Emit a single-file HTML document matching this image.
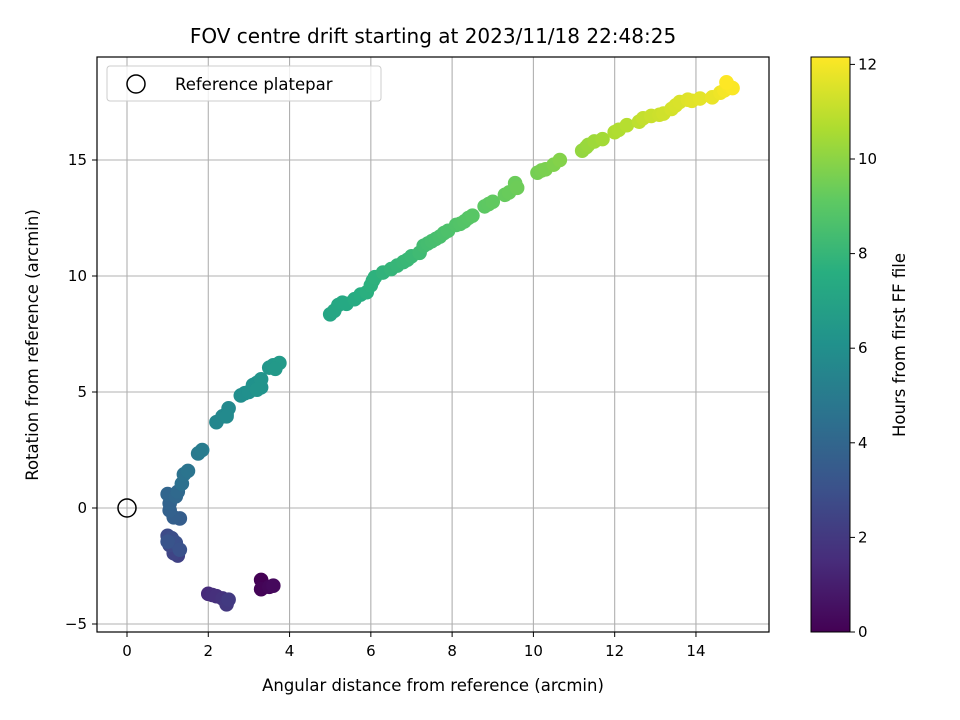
<!DOCTYPE html>
<html><head><meta charset="utf-8"><style>
body{margin:0;background:#fff;}
svg{display:block;font-family:"DejaVu Sans","Liberation Sans",sans-serif;}
</style></head><body>
<svg id="chart" width="960" height="720">
<text x="433" y="43" font-size="20" text-anchor="middle">FOV centre drift starting at 2023/11/18 22:48:25</text>
<g id="grid"></g>
<g id="pts"></g>
<rect x="97" y="57" width="672" height="575" fill="none" stroke="#000" stroke-width="1.2"/>
<g id="ticks"></g>
<text x="433" y="691" font-size="16.5" text-anchor="middle">Angular distance from reference (arcmin)</text>
<text transform="translate(38,345) rotate(-90)" font-size="16.5" text-anchor="middle">Rotation from reference (arcmin)</text>
<g>
<rect x="107" y="66" width="274" height="35" rx="3" fill="#fff" fill-opacity="0.8" stroke="#ccc"/>
<circle cx="136" cy="84" r="9" fill="none" stroke="#000" stroke-width="1.5"/>
<text x="175" y="90" font-size="16.5">Reference platepar</text>
</g>
<defs><linearGradient id="vir" x1="0" y1="1" x2="0" y2="0">
<stop offset="0" stop-color="#440154"/><stop offset="0.125" stop-color="#472d7b"/><stop offset="0.25" stop-color="#3b528b"/><stop offset="0.375" stop-color="#2c728e"/><stop offset="0.5" stop-color="#21918c"/><stop offset="0.625" stop-color="#28ae80"/><stop offset="0.75" stop-color="#5ec962"/><stop offset="0.875" stop-color="#addc30"/><stop offset="1" stop-color="#fde725"/>
</linearGradient></defs>
<rect x="811" y="57" width="39" height="575" fill="url(#vir)" stroke="#000" stroke-width="1"/>
<g id="cbticks"></g>
<text transform="translate(905,345) rotate(-90)" font-size="16.5" text-anchor="middle">Hours from first FF file</text>
</svg>
<script>
const xs=[3.3,3.3,3.5,3.6, 2.0,2.1,2.2,2.35,2.45,2.45,2.5, 1.25,1.15,1.05,1.0,1.1,1.2,1.3,1.0, 1.3,1.15,1.05,1.05,1.0,1.2,1.25, 1.35,1.4,1.5, 1.75,1.85, 2.2,2.35,2.45,2.5,2.45, 2.8,2.9,3.0,3.1,3.2,3.3,3.3,3.2, 3.5,3.6,3.75,3.65,
5.0,5.1,5.2,5.3,5.4,5.6,5.75,5.9,6.0,6.05,6.1,6.3,6.5,6.65,6.8,6.9,7.0,7.2,7.3,7.4,7.5,7.6,7.7,7.8,7.9,8.1,8.2,8.3,8.4,8.5,8.8,8.9,9.0,9.3,9.4,9.55,9.6,
10.1,10.2,10.3,10.5,10.65,11.2,11.3,11.35,11.5,11.7,12.0,12.1,12.3,12.6,12.7,12.9,13.1,13.2,13.4,13.5,13.6,13.8,13.9,14.1,14.4,14.6,14.7,14.8,14.9,14.75];
const ys=[-3.1,-3.5,-3.4,-3.35, -3.7,-3.75,-3.8,-3.9,-4.0,-4.15,-3.95, -2.05,-1.95,-1.6,-1.2,-1.3,-1.5,-1.8,-1.45, -0.45,-0.4,-0.1,0.2,0.6,0.5,0.7, 1.05,1.45,1.6, 2.35,2.5, 3.7,3.95,4.05,4.3,3.95, 4.85,4.95,5.0,5.3,5.4,5.2,5.55,5.1, 6.05,6.15,6.25,6.0,
8.35,8.5,8.75,8.85,8.8,9.0,9.2,9.3,9.6,9.8,9.95,10.15,10.3,10.45,10.6,10.7,10.85,11.0,11.3,11.4,11.5,11.6,11.7,11.85,11.95,12.2,12.25,12.35,12.5,12.6,13.0,13.1,13.2,13.5,13.6,14.0,13.8,
14.45,14.55,14.6,14.8,15.0,15.4,15.55,15.65,15.8,15.9,16.2,16.3,16.5,16.65,16.8,16.9,16.95,17.0,17.2,17.35,17.5,17.6,17.55,17.65,17.7,17.9,18.0,18.2,18.1,18.35];
const hs=[0.0,0.1,0.2,0.3, 1.5,1.6,1.7,1.8,1.9,2.0,2.1, 2.4,2.5,2.7,2.8,2.9,3.0,3.1,3.2, 3.6,3.7,3.8,3.9,4.0,4.1,4.2, 4.5,4.6,4.7, 5.0,5.1, 5.6,5.65,5.7,5.75,5.8, 6.0,6.05,6.1,6.15,6.2,6.25,6.3,6.3, 6.4,6.5,6.6,6.55,
7.2,7.25,7.3,7.35,7.4,7.5,7.6,7.7,7.75,7.78,7.8,7.9,8.0,8.05,8.1,8.15,8.2,8.3,8.4,8.45,8.5,8.55,8.6,8.65,8.7,8.8,8.85,8.9,8.95,9.0,9.1,9.15,9.2,9.3,9.35,9.4,9.45,
9.6,9.65,9.7,9.8,9.9,10.2,10.25,10.3,10.4,10.5,10.7,10.75,10.85,11.0,11.1,11.2,11.25,11.3,11.4,11.45,11.5,11.6,11.65,11.7,11.8,11.9,12.0,12.05,12.1,12.15];
const xTicks=[0,2,4,6,8,10,12,14];
const yTicks=[-5,0,5,10,15];
const cbTicks=[0,2,4,6,8,10,12];
const NS="http://www.w3.org/2000/svg";
const X=v=>127+v*40.64, Y=v=>508-v*23.2, C=v=>632-v*47.3;
const vir=[[68,1,84],[71,44,122],[59,81,139],[44,113,142],[33,144,141],[39,173,129],[92,200,99],[170,220,50],[253,231,37]];
function col(h){let t=Math.max(0,Math.min(1,h/12.15))*8,i=Math.min(7,Math.floor(t)),f=t-i;const a=vir[i],b=vir[i+1];return `rgb(${a.map((v,k)=>Math.round(v+(b[k]-v)*f)).join(',')})`;}
function mk(t,at,p){const e=document.createElementNS(NS,t);for(const k in at)e.setAttribute(k,at[k]);p.appendChild(e);return e;}
const grid=document.getElementById('grid'),tk=document.getElementById('ticks'),pts=document.getElementById('pts'),cb=document.getElementById('cbticks');
xTicks.forEach(v=>{const x=X(v);
const g=mk('line',{x1:x,x2:x,y1:57,y2:632,stroke:'#b0b0b0','stroke-width':1.1},grid);


mk('line',{x1:x,x2:x,y1:632,y2:637,stroke:'#000'},tk);
const t=mk('text',{x:x,y:656,'font-size':15,'text-anchor':'middle'},tk);t.textContent=v;

});
yTicks.forEach(v=>{const y=Y(v);
const g=mk('line',{x1:97,x2:769,y1:y,y2:y,stroke:'#b0b0b0','stroke-width':1.1},grid);


mk('line',{x1:92,x2:97,y1:y,y2:y,stroke:'#000'},tk);
const t=mk('text',{x:87,y:y+5,'font-size':15,'text-anchor':'end'},tk);t.textContent=v===-5?'\u22125':v;

});
cbTicks.forEach(v=>{const y=C(v);
mk('line',{x1:850,x2:855,y1:y,y2:y,stroke:'#000'},cb);
const t=mk('text',{x:858,y:y+5,'font-size':15},cb);t.textContent=v;

});
xs.forEach((x,i)=>{const c=mk('circle',{cx:X(x),cy:Y(ys[i]),r:7.3,fill:col(hs[i])},pts);

});
const r=mk('circle',{cx:X(0),cy:Y(0),r:9,fill:'none',stroke:'#000','stroke-width':1.5},pts);


</script>
</body></html>
